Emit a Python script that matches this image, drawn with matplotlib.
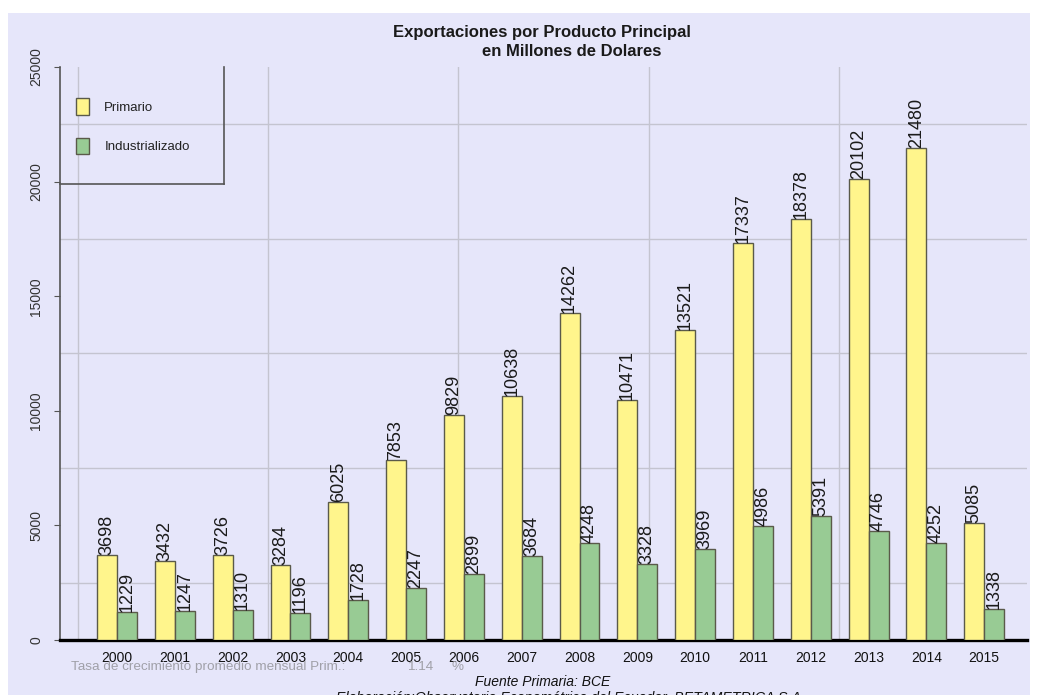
import numpy as np
import matplotlib
matplotlib.use("Agg")
import matplotlib.pyplot as plt
from matplotlib.patches import Rectangle

years = ["2000", "2001", "2002", "2003", "2004", "2005", "2006", "2007",
         "2008", "2009", "2010", "2011", "2012", "2013", "2014", "2015"]
primario = [3698, 3432, 3726, 3284, 6025, 7853, 9829, 10638,
            14262, 10471, 13521, 17337, 18378, 20102, 21480, 5085]
industrializado = [1229, 1247, 1310, 1196, 1728, 2247, 2899, 3684,
                   4248, 3328, 3969, 4986, 5391, 4746, 4252, 1338]
yticks = [0, 5000, 10000, 15000, 20000, 25000]

plt.rcParams['font.family'] = ['Liberation Sans', 'DejaVu Sans']

BG = "#E6E6FA"
YEL = "#FFF58C"
GRN = "#98CB94"
EDGE = "#5a5a4a"

W, H = 1042, 695
fig = plt.figure(figsize=(W / 100, H / 100), dpi=100)
fig.patch.set_facecolor("white")
fig.patches.append(Rectangle((8 / W, 0), (1030 - 8) / W, (H - 13) / H,
                             transform=fig.transFigure, facecolor=BG,
                             edgecolor="none", zorder=-10))

ax = fig.add_axes([60 / W, 1 - 640 / H, (1027 - 60) / W, (640 - 67) / H])
ax.set_facecolor(BG)

x = np.arange(len(years))
bw = 0.345
b1 = ax.bar(x - bw / 2, primario, width=bw, color=YEL, edgecolor=EDGE,
            linewidth=1.0, label="Primario", zorder=3)
b2 = ax.bar(x + bw / 2, industrializado, width=bw, color=GRN, edgecolor=EDGE,
            linewidth=1.0, label="Industrializado", zorder=3)

for bars in (b1, b2):
    for r in bars:
        ax.annotate(f"{int(r.get_height())}",
                    (r.get_x() + r.get_width() / 2, r.get_height()),
                    xytext=(0, 0), textcoords="offset points",
                    rotation=90, ha="center", va="bottom",
                    fontsize=13, color="#1a1a1a", zorder=4)

ax.set_xlim(-0.986, 15.74)
ax.set_ylim(0, 25000)
ax.set_yticks(yticks)
ax.set_yticklabels([str(v) for v in yticks], rotation=90, va="center",
                   fontsize=10, color="#333333")
ax.set_yticks(np.arange(0, 25001, 2500), minor=True)
ax.tick_params(axis="y", which="major", length=4, color="#555555", pad=8)
ax.tick_params(axis="y", which="minor", length=0)
ax.set_xticks(x)
ax.set_xticklabels(years, fontsize=10, color="#111111")
ax.tick_params(axis="x", which="major", length=0, pad=8)
ax.set_xticks(np.arange(-0.675, 15.74, 3.29), minor=True)
ax.tick_params(axis="x", which="minor", length=0)

ax.grid(False)
ax.yaxis.grid(True, which="minor", color="#c4c4d0", linewidth=1.0, zorder=0)
ax.xaxis.grid(True, which="minor", color="#c4c4d0", linewidth=1.0, zorder=0)
ax.set_axisbelow(True)

for s in ("top", "right"):
    ax.spines[s].set_visible(False)
ax.spines["left"].set_color("#555555")
ax.spines["left"].set_linewidth(1.2)
ax.spines["bottom"].set_color("black")
ax.spines["bottom"].set_linewidth(2.4)

# legend
lx = (224 - 60) / (1027 - 60)
ly = (640 - 184) / (640 - 67)
ax.plot([lx, lx], [ly, 1.0], transform=ax.transAxes, color="#555555",
        lw=1.2, clip_on=False, zorder=5)
ax.plot([0, lx], [ly, ly], transform=ax.transAxes, color="#555555",
        lw=1.2, clip_on=False, zorder=5)
leg = ax.legend(handles=[b1, b2], loc="upper left",
                bbox_to_anchor=((76 - 60) / 967, (640 - 98) / 573),
                frameon=False, borderaxespad=0, borderpad=0,
                fontsize=9.5, handlelength=1.0, handleheight=1.55,
                handletextpad=1.15, labelspacing=1.75)
for t in leg.get_texts():
    t.set_color("#222222")

# titles
fig.text(542 / W, 1 - 33 / H, "Exportaciones por Producto Principal",
         ha="center", va="center", fontsize=12, fontweight="bold",
         color="#1a1a1a")
fig.text(572 / W, 1 - 52 / H, "en Millones de Dolares",
         ha="center", va="center", fontsize=12, fontweight="bold",
         color="#1a1a1a")

# footer texts
GRAY = "#a0a0a8"
fig.text(71 / W, 1 - 667 / H, "Tasa de crecimiento promedio mensual Prim.:",
         ha="left", va="center", fontsize=9.7, color=GRAY)
fig.text(420 / W, 1 - 667 / H, "1.14", ha="center", va="center",
         fontsize=9.7, color=GRAY)
fig.text(457 / W, 1 - 667 / H, "%", ha="center", va="center",
         fontsize=9.7, color=GRAY)
fig.text(543 / W, 1 - 682 / H, "Fuente Primaria: BCE", ha="center",
         va="center", fontsize=10, style="italic", color="#111111")
fig.text(571 / W, 1 - 698 / H,
         "Elaboración:Observatorio Econométrico del Ecuador, BETAMETRICA S.A.",
         ha="center", va="center", fontsize=10.3, style="italic",
         color="#111111")

fig.savefig("out.png", dpi=100, facecolor=fig.get_facecolor())
